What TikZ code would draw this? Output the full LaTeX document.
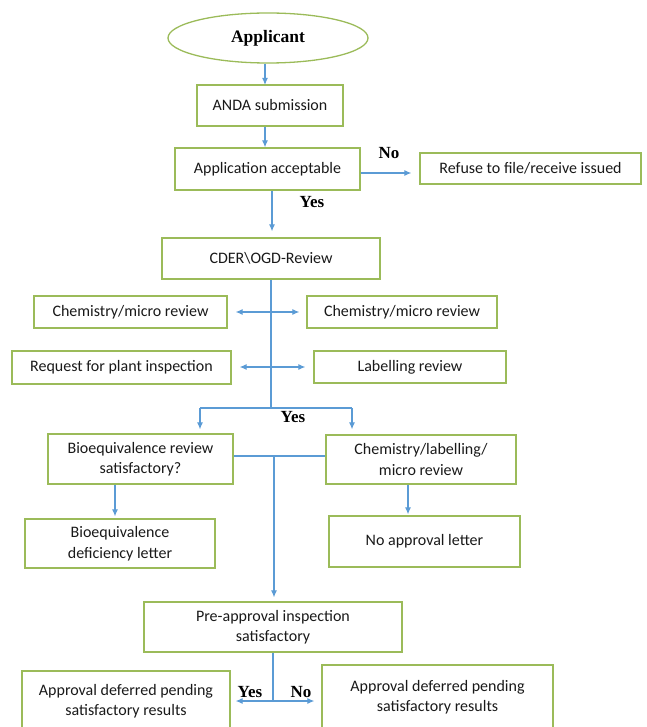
\documentclass[tikz,border=0pt]{standalone}
\usepackage{fontspec}
\setmainfont{Carlito}
\newfontfamily\tnr{Liberation Serif}
\usetikzlibrary{arrows.meta,shapes.geometric}
\definecolor{boxgreen}{HTML}{9BBB59}
\definecolor{arrblue}{HTML}{5B9BD5}
\tikzset{
  box/.style={draw=boxgreen, line width=1.3pt, rectangle, inner sep=2pt, align=center,
    font=\fontsize{16}{20.5}\selectfont, text=black!90},
  arr/.style={draw=arrblue, line width=1.1pt, -{Latex[length=7pt,width=6pt]}},
  darr/.style={draw=arrblue, line width=1.1pt, {Latex[length=7pt,width=6pt]}-{Latex[length=7pt,width=6pt]}},
  ln/.style={draw=arrblue, line width=1.1pt},
  lbl/.style={font=\tnr\bfseries\fontsize{17}{20}\selectfont, inner sep=0pt}
}
\begin{document}
\begin{tikzpicture}[x=1pt,y=-1pt]
\useasboundingbox (0,0) rectangle (646,727);
\clip (0,0) rectangle (646,727);
% nodes
\node[draw=boxgreen, line width=1.3pt, ellipse, minimum width=200pt, minimum height=50pt, inner sep=0pt,
  font=\tnr\bfseries\fontsize{17.5}{20}\selectfont] (app) at (268,38) {Applicant};
\node[box, minimum width=146pt, minimum height=41pt] (anda) at (270,105.5) {ANDA submission};
\node[box, minimum width=185pt, minimum height=42pt] (acc) at (267.5,169) {Application acceptable};
\node[box, minimum width=221pt, minimum height=31pt] (refuse) at (530.5,168.5) {Refuse to file/receive issued};
\node[box, minimum width=218pt, minimum height=41pt] (cder) at (271,258.5) {CDER\textbackslash OGD-Review};
\node[box, minimum width=193pt, minimum height=32pt] (chemL) at (130.5,312) {Chemistry/micro review};
\node[box, minimum width=190pt, minimum height=32pt] (chemR) at (402,312) {Chemistry/micro review};
\node[box, minimum width=219pt, minimum height=33pt] (req) at (121.5,367.5) {Request for plant inspection};
\node[box, minimum width=192pt, minimum height=32pt] (lab) at (410,367) {Labelling review};
\node[box, minimum width=185pt, minimum height=50pt] (bio) at (140.5,459) {Bioequivalence review\\satisfactory?};
\node[box, minimum width=190pt, minimum height=49pt] (chemlab) at (421,459.5) {Chemistry/labelling/\\micro review};
\node[box, minimum width=190pt, minimum height=49pt] (biodef) at (120,543.5) {Bioequivalence\\deficiency letter};
\node[box, minimum width=191pt, minimum height=51pt] (noappr) at (424.5,541.5) {No approval letter};
\node[box, minimum width=258pt, minimum height=50pt] (pre) at (273,627) {Pre-approval inspection\\satisfactory};
\node[box, minimum width=208pt, minimum height=60pt] (defL) at (126,701)
  {Approval deferred pending\\satisfactory results};
\node[box, minimum width=231pt, minimum height=64pt] (defR) at (437.5,697)
  {Approval deferred pending\\satisfactory results};
% coordinates
\coordinate (hub) at (271,408);
\coordinate (hl) at (200,408);
\coordinate (hr) at (352,408);
\coordinate (mid) at (274,456);
\coordinate (bot) at (273,701);
% connectors
\draw[arr] (app.south -| 265,0) -- (265,85);
\draw[arr] (anda.south -| 265,0) -- (acc.north -| 265,0);
\draw[arr, shorten >=8pt] (acc.east |- 0,173) -- (refuse.west |- 0,173);
\node[lbl] at (389,153) {No};
\draw[arr, shorten >=6pt] (acc.south -| 272,0) -- (cder.north -| 272,0);
\node[lbl] at (312,202) {Yes};
\draw[ln] (cder.south -| hub) -- (hub);
\draw[darr, shorten <=8pt, shorten >=7pt] (chemL.east) -- (chemR.west);
\draw[darr, shorten <=8pt, shorten >=8pt] (req.east |- 0,367) -- (lab.west |- 0,367);
\draw[ln] (hl) -- (hr);
\draw[arr, shorten >=4pt] (hl) -- (hl |- bio.north);
\draw[arr, shorten >=5pt] (hr) -- (hr |- chemlab.north);
\node[lbl] at (293,417) {Yes};
\draw[ln] (bio.east |- mid) -- (chemlab.west |- mid);
\draw[arr, shorten >=4pt] (mid) -- (mid |- pre.north);
\draw[arr, shorten >=2pt] (bio.south -| 115,0) -- (biodef.north -| 115,0);
\draw[arr, shorten >=1pt] (chemlab.south -| 408,0) -- (noappr.north -| 408,0);
\draw[ln] (pre.south -| bot) -- (bot);
\draw[darr, shorten <=5pt, shorten >=7pt] (defL.east |- bot) -- (defR.west |- bot);
\node[lbl] at (250,692) {Yes};
\node[lbl] at (301,692) {No};
\end{tikzpicture}
\end{document}
